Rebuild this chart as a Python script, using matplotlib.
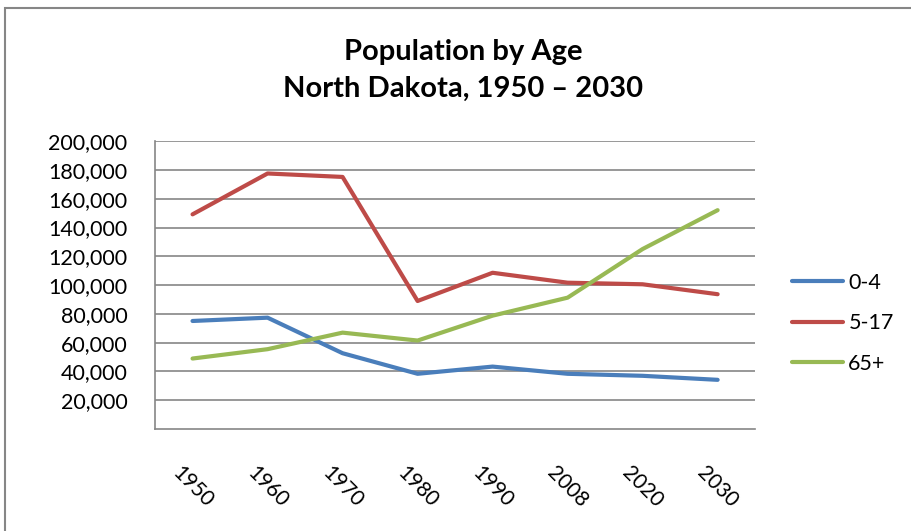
import matplotlib
matplotlib.use('Agg')
import matplotlib.pyplot as plt
from matplotlib.patches import Rectangle
from matplotlib.ticker import FuncFormatter

plt.rcParams['font.family'] = ['Lato', 'DejaVu Sans']

#=======Data
years = ['1950', '1960', '1970', '1980', '1990', '2008', '2020', '2030']
age_0_4 = [75100, 77400, 52700, 38400, 43400, 38400, 37000, 34200]
age_5_17 = [149200, 177600, 175200, 89000, 108600, 101700, 100600, 93700]
age_65 = [49000, 55500, 67000, 61500, 78800, 91300, 125100, 152100]
series_names = ['0-4', '5-17', '65+']
colors = ['#4A7EBB', '#BE4B48', '#98B954']

#==============Plotting data
fig = plt.figure(figsize=(9.12, 5.31), dpi=100)
ax = fig.add_axes([0.170, 0.192, 0.658, 0.542])

x = list(range(len(years)))
for vals, name, c in zip([age_0_4, age_5_17, age_65], series_names, colors):
    ax.plot(x, vals, color=c, lw=3, solid_capstyle='round', label=name)

ax.set_xlim(-0.5, len(years) - 0.5)
ax.set_ylim(0, 200000)
ax.set_yticks(range(20000, 200001, 20000))
ax.yaxis.set_major_formatter(FuncFormatter(lambda v, p: f'{int(v):,}'))
ax.set_xticks(x)
ax.set_xticklabels(years, rotation=-45, ha='center', va='top')
ax.tick_params(axis='x', length=0, pad=24, labelsize=15)
ax.tick_params(axis='y', length=0, pad=20, labelsize=15.5)

ax.grid(True, axis='y', color='#868686', lw=1.2)
ax.set_axisbelow(True)
for s in ['top', 'right']:
    ax.spines[s].set_visible(False)
for s in ['left', 'bottom']:
    ax.spines[s].set_color('#868686')
    ax.spines[s].set_linewidth(1.2)

fig.text(0.508, 0.903, 'Population by Age', ha='center', va='center',
         fontsize=21, fontweight='bold')
fig.text(0.508, 0.832, 'North Dakota, 1950 \u2013 2030', ha='center', va='center',
         fontsize=21, fontweight='bold')

leg = ax.legend(loc='center left', bbox_to_anchor=(1.062, 0.368), frameon=False,
                fontsize=15.5, handlelength=2.35, handletextpad=0.25,
                labelspacing=0.95, borderpad=0, borderaxespad=0)

# chart border
fig.patches.append(Rectangle((5 / 912, -0.1), 1.2, 1 - 8 / 531 + 0.1,
                             transform=fig.transFigure, fill=False,
                             edgecolor='#868686', lw=1.5))

plt.savefig('out.png', dpi=100)
